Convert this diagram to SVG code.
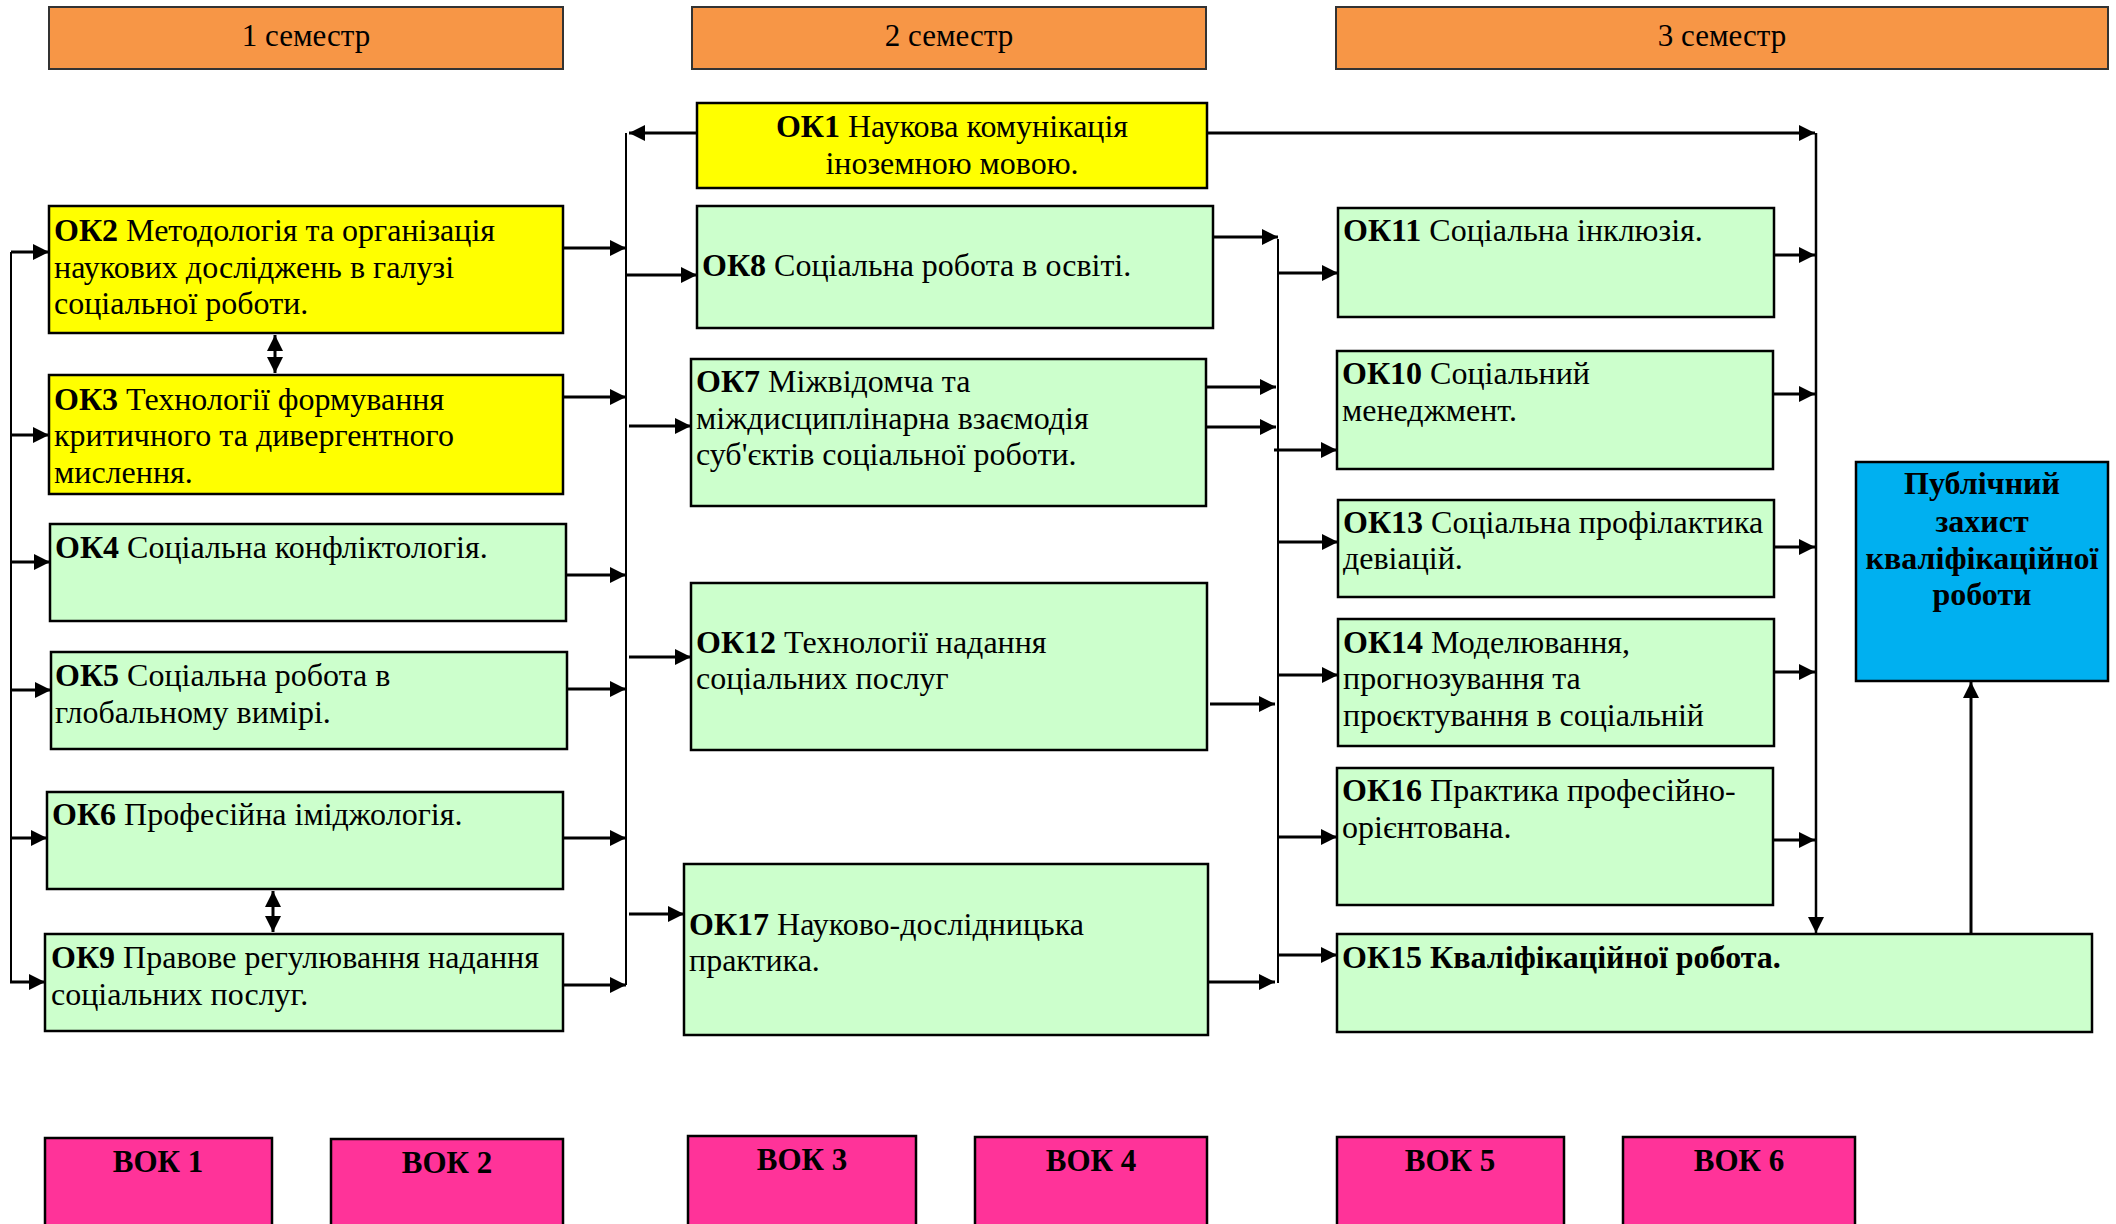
<svg xmlns="http://www.w3.org/2000/svg" width="2116" height="1224" viewBox="0 0 2116 1224">
<style>
text{font-family:"Liberation Serif","Times New Roman",serif;font-size:32px;fill:#000}
.b{font-weight:bold}
.c{text-anchor:middle}
.s{font-size:31px}
.hdr{fill:#F79646;stroke:#333;stroke-width:2}
.y{fill:#FFFF00;stroke:#000;stroke-width:2.5}
.g{fill:#CCFFCC;stroke:#000;stroke-width:2.5}
.bl{fill:#00B0F0;stroke:#000;stroke-width:2.5}
.pk{fill:#FF3399;stroke:#000;stroke-width:2.5}
.bus{stroke:#000;stroke-width:2;fill:none}
.ar{stroke:#000;stroke-width:3;fill:none;marker-end:url(#ah)}
.da{stroke:#000;stroke-width:3;fill:none;marker-end:url(#ah);marker-start:url(#ahs)}
</style>
<defs>
<marker id="ah" markerUnits="userSpaceOnUse" markerWidth="16" markerHeight="16" refX="16" refY="8" orient="auto"><path d="M0,0 L16,8 L0,16 z" fill="#000"/></marker>
<marker id="ahs" markerUnits="userSpaceOnUse" markerWidth="16" markerHeight="16" refX="0" refY="8" orient="auto"><path d="M16,0 L0,8 L16,16 z" fill="#000"/></marker>
</defs>
<rect width="2116" height="1224" fill="#fff"/>

<g id="sem1"><rect class="hdr" x="49" y="7" width="514" height="62"/><text class="c s" x="306" y="46">1 семестр</text></g>
<g id="sem2"><rect class="hdr" x="692" y="7" width="514" height="62"/><text class="c s" x="949" y="46">2 семестр</text></g>
<g id="sem3"><rect class="hdr" x="1336" y="7" width="772" height="62"/><text class="c s" x="1722" y="46">3 семестр</text></g>

<g id="ok2"><rect class="y" x="49" y="206" width="514" height="127"/><text x="54" y="241"><tspan class="b">ОК2</tspan> Методологія та організація</text><text x="54" y="278">наукових досліджень в галузі</text><text x="54" y="314">соціальної роботи.</text></g>
<g id="ok3"><rect class="y" x="49" y="375" width="514" height="119"/><text x="54" y="410"><tspan class="b">ОК3</tspan> Технології формування</text><text x="54" y="446">критичного та дивергентного</text><text x="54" y="483">мислення.</text></g>
<g id="ok4"><rect class="g" x="50" y="524" width="516" height="97"/><text x="55" y="558"><tspan class="b">ОК4</tspan> Соціальна конфліктологія.</text></g>
<g id="ok5"><rect class="g" x="51" y="652" width="516" height="97"/><text x="55" y="686"><tspan class="b">ОК5</tspan> Соціальна робота в</text><text x="55" y="723">глобальному вимірі.</text></g>
<g id="ok6"><rect class="g" x="47" y="792" width="516" height="97"/><text x="52" y="825"><tspan class="b">ОК6</tspan> Професійна іміджологія.</text></g>
<g id="ok9"><rect class="g" x="45" y="934" width="518" height="97"/><text x="51" y="968"><tspan class="b">ОК9</tspan> Правове регулювання надання</text><text x="51" y="1005">соціальних послуг.</text></g>

<g id="ok1"><rect class="y" x="697" y="103" width="510" height="85"/><text class="c" x="952" y="137"><tspan class="b">ОК1</tspan> Наукова комунікація</text><text class="c" x="952" y="174">іноземною мовою.</text></g>
<g id="ok8"><rect class="g" x="697" y="206" width="516" height="122"/><text x="702" y="276"><tspan class="b">ОК8</tspan> Соціальна робота в освіті.</text></g>
<g id="ok7"><rect class="g" x="691" y="359" width="515" height="147"/><text x="696" y="392"><tspan class="b">ОК7</tspan> Міжвідомча та</text><text x="696" y="429">міждисциплінарна взаємодія</text><text x="696" y="465">суб'єктів соціальної роботи.</text></g>
<g id="ok12"><rect class="g" x="691" y="583" width="516" height="167"/><text x="696" y="653"><tspan class="b">ОК12</tspan> Технології надання</text><text x="696" y="689">соціальних послуг</text></g>
<g id="ok17"><rect class="g" x="684" y="864" width="524" height="171"/><text x="689" y="935"><tspan class="b">ОК17</tspan> Науково-дослідницька</text><text x="689" y="971">практика.</text></g>

<g id="ok11"><rect class="g" x="1338" y="208" width="436" height="109"/><text x="1343" y="241"><tspan class="b">ОК11</tspan> Соціальна інклюзія.</text></g>
<g id="ok10"><rect class="g" x="1337" y="351" width="436" height="118"/><text x="1342" y="384"><tspan class="b">ОК10</tspan> Соціальний</text><text x="1342" y="421">менеджмент.</text></g>
<g id="ok13"><rect class="g" x="1338" y="500" width="436" height="97"/><text x="1343" y="533"><tspan class="b">ОК13</tspan> Соціальна профілактика</text><text x="1343" y="569">девіацій.</text></g>
<g id="ok14"><rect class="g" x="1338" y="619" width="436" height="127"/><text x="1343" y="653"><tspan class="b">ОК14</tspan> Моделювання,</text><text x="1343" y="689">прогнозування та</text><text x="1343" y="726">проєктування в соціальній</text></g>
<g id="ok16"><rect class="g" x="1337" y="768" width="436" height="137"/><text x="1342" y="801"><tspan class="b">ОК16</tspan> Практика професійно-</text><text x="1342" y="838">орієнтована.</text></g>
<g id="ok15"><rect class="g" x="1337" y="934" width="755" height="98"/><text class="b" x="1342" y="968">ОК15 Кваліфікаційної робота.</text></g>
<g id="pub"><rect class="bl" x="1856" y="462" width="252" height="219"/><text class="b c" x="1982" y="494">Публічний</text><text class="b c" x="1982" y="532">захист</text><text class="b c" x="1982" y="569">кваліфікаційної</text><text class="b c" x="1982" y="605">роботи</text></g>

<g id="vok1"><rect class="pk" x="45" y="1138" width="227" height="100"/><text class="b c s" x="158" y="1172">ВОК 1</text></g>
<g id="vok2"><rect class="pk" x="331" y="1139" width="232" height="100"/><text class="b c s" x="447" y="1173">ВОК 2</text></g>
<g id="vok3"><rect class="pk" x="688" y="1136" width="228" height="100"/><text class="b c s" x="802" y="1170">ВОК 3</text></g>
<g id="vok4"><rect class="pk" x="975" y="1137" width="232" height="100"/><text class="b c s" x="1091" y="1171">ВОК 4</text></g>
<g id="vok5"><rect class="pk" x="1337" y="1137" width="227" height="100"/><text class="b c s" x="1450" y="1171">ВОК 5</text></g>
<g id="vok6"><rect class="pk" x="1623" y="1137" width="232" height="100"/><text class="b c s" x="1739" y="1171">ВОК 6</text></g>

<g id="connectors">
<path class="bus" d="M11,252 V982"/>
<path class="ar" d="M11,252 H49"/>
<path class="ar" d="M11,435 H49"/>
<path class="ar" d="M11,562 H50"/>
<path class="ar" d="M11,690 H51"/>
<path class="ar" d="M11,838 H47"/>
<path class="ar" d="M10,982 H45"/>
<path class="da" d="M275,335 V373"/>
<path class="da" d="M273,891 V932"/>
<path class="ar" d="M563,248 H626"/>
<path class="ar" d="M563,397 H626"/>
<path class="ar" d="M566,575 H626"/>
<path class="ar" d="M567,689 H626"/>
<path class="ar" d="M563,838 H626"/>
<path class="ar" d="M563,985 H626"/>
<path class="bus" d="M626,133 V985"/>
<path class="ar" d="M697,133 H629"/>
<path class="ar" d="M626,275 H697"/>
<path class="ar" d="M629,426 H691"/>
<path class="ar" d="M629,657 H691"/>
<path class="ar" d="M629,914 H684"/>
<path class="ar" d="M1213,237 H1278"/>
<path class="ar" d="M1206,387 H1276"/>
<path class="ar" d="M1206,427 H1276"/>
<path class="ar" d="M1210,704 H1275"/>
<path class="ar" d="M1208,982 H1275"/>
<path class="bus" d="M1278,239 V983"/>
<path class="ar" d="M1278,273 H1338"/>
<path class="ar" d="M1274,450 H1337"/>
<path class="ar" d="M1278,542 H1338"/>
<path class="ar" d="M1277,675 H1338"/>
<path class="ar" d="M1277,837 H1337"/>
<path class="ar" d="M1277,955 H1337"/>
<path class="ar" d="M1207,133 H1815"/>
<path class="ar" d="M1774,255 H1815"/>
<path class="ar" d="M1773,394 H1815"/>
<path class="ar" d="M1774,547 H1815"/>
<path class="ar" d="M1774,672 H1815"/>
<path class="ar" d="M1773,840 H1815"/>
<path class="ar" d="M1816,133 V933" style="stroke-width:2.5"/>
<path class="ar" d="M1971,934 V682"/>
</g>
</svg>
